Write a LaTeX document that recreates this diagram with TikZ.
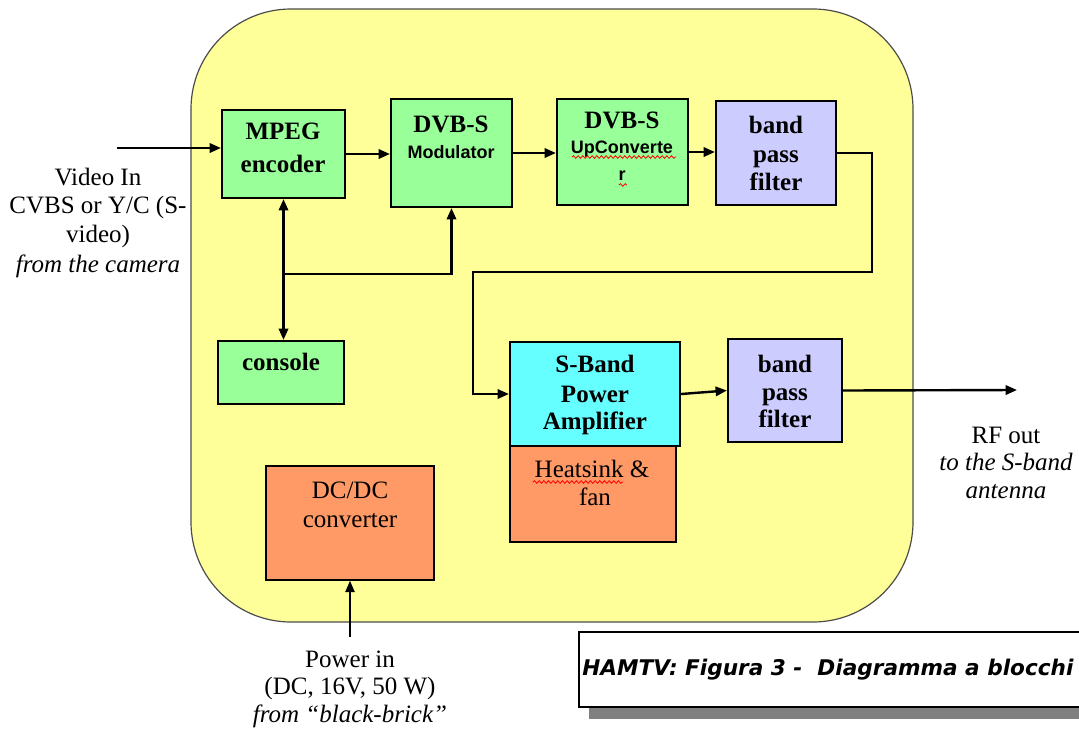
\documentclass[tikz,border=0pt]{standalone}
\usepackage{fontspec}
\setmainfont{Liberation Serif}
\setsansfont{Liberation Sans}
\newfontfamily\capfont{DejaVu Sans}
\usetikzlibrary{arrows.meta,fit,decorations.pathmorphing}
\definecolor{bgyellow}{RGB}{255,255,153}
\definecolor{boxgreen}{RGB}{153,255,153}
\definecolor{boxlav}{RGB}{204,204,255}
\definecolor{boxcyan}{RGB}{102,255,255}
\definecolor{boxorange}{RGB}{255,153,102}
\definecolor{shadowgray}{RGB}{128,128,128}
\tikzset{
  box/.style={draw=black, line width=1.6pt, inner sep=0pt},
  thinbox/.style={draw=black, line width=1.2pt, inner sep=0pt},
  bt/.style={font=\fontsize{18.75}{21}\selectfont\bfseries, anchor=base, inner sep=0pt},
  rt/.style={font=\fontsize{18.75}{21}\selectfont, anchor=base, inner sep=0pt},
  it/.style={font=\fontsize{18.75}{21}\selectfont\itshape, anchor=base, inner sep=0pt},
  st/.style={font=\sffamily\bfseries\fontsize{13.5}{15}\selectfont, anchor=base, inner sep=0pt},
  tip/.tip={Triangle[length=8.5pt,width=7pt]},
  conn/.style={line width=1.8pt, -tip},
  squig/.style={red, line width=0.6pt, decorate, decoration={snake, amplitude=1pt, segment length=3.5pt}},
}
\begin{document}
\begin{tikzpicture}[x=0.75pt,y=-0.75pt]
\useasboundingbox (0,0) rectangle (1079,733);
\clip (0,0) rectangle (1079,733);
% housing
\draw[fill=bgyellow, draw=black!70, line width=0.9pt, rounded corners=75pt] (191,9) rectangle (913,622);
% boxes
\node[box, fill=boxgreen, fit={(222,110) (345,198)}] (mpeg) {};
\node[box, fill=boxgreen, fit={(391,99) (512,207)}] (mod) {};
\node[box, fill=boxgreen, fit={(557,99) (688,205)}] (upc) {};
\node[box, fill=boxlav, fit={(716,101) (836,205)}] (bpfa) {};
\node[box, fill=boxgreen, fit={(218,341) (344,404)}] (cons) {};
\node[thinbox, fill=boxorange, fit={(510,446) (676,542)}] (heat) {};
\node[box, fill=boxcyan, fit={(510,342) (680,446)}] (pa) {};
\node[box, fill=boxlav, fit={(728,339) (842,442)}] (bpfb) {};
\node[thinbox, fill=boxorange, fit={(266,466) (434,580)}] (dcdc) {};
% box texts
\node[bt] (mpeg1) at (283,139) {MPEG};
\node[bt] (mpeg2) at (283,172) {encoder};
\node[bt] (mod1) at (451,132) {DVB-S};
\node[st] (mod2) at (451,158) {Modulator};
\node[bt] (upc1) at (622,128) {DVB-S};
\node[st] (upc2) at (622,153) {UpConverte};
\node[st] (upc3) at (622,180) {r};
\node[bt] (bpfa1) at (776,133) {band};
\node[bt] (bpfa2) at (776,162) {pass};
\node[bt] (bpfa3) at (776,190) {filter};
\node[bt] (cons1) at (281,370) {console};
\node[bt] (pa1) at (595,372) {S-Band};
\node[bt] (pa2) at (595,402) {Power};
\node[bt] (pa3) at (595,429) {Amplifier};
\node[rt] (heat1) at (592,477) {Heatsink \&};
\node[rt] (heat2) at (595,505) {fan};
\node[bt] (bpfb1) at (785,372) {band};
\node[bt] (bpfb2) at (785,400) {pass};
\node[bt] (bpfb3) at (785,427) {filter};
\node[rt] (dc1) at (350,498) {DC/DC};
\node[rt] (dc2) at (350,527) {converter};
% spell-check squiggles
\draw[squig] (572,157) -- (676,157);
\draw[squig] (619,185) -- (627,185);
\draw[squig] (533,482) -- (623,482);
% outside texts
\node[rt] (vin1) at (98,185) {Video In};
\node[rt] (vin2) at (98,213) {CVBS or Y/C (S-};
\node[rt] (vin3) at (98,242) {video)};
\node[it] (vin4) at (98,272) {from the camera};
\node[rt] (rf1) at (1006,443) {RF out};
\node[it] (rf2) at (1006,470) {to the S-band};
\node[it] (rf3) at (1006,498) {antenna};
\node[rt] (pw1) at (350,667) {Power in};
\node[rt] (pw2) at (350,694) {(DC, 16V, 50 W)};
\node[it] (pw3) at (350,722) {from “black-brick”};
% connectors
\coordinate (vin) at (117,148);
\draw[conn] (vin) -- (vin -| mpeg.west);
\draw[conn] (mpeg.east) -- (mpeg.east -| mod.west);
\draw[conn] (mod.east) -- (mod.east -| upc.west);
\draw[conn] (upc.east) -- (upc.east -| bpfa.west);
\coordinate (r1) at (872,272);
\coordinate (l1) at (473,272);
\draw[conn] (bpfa.east) -| (r1) -- (l1) |- (pa.west);
\draw[conn] (pa.east) -- (bpfb.west);
\coordinate (rfout) at (1017,390);
\draw[conn] (bpfb.east) -- (rfout);
\draw[line width=1.8pt, tip-tip] (mpeg.south) -- (mpeg.south |- cons.north);
\coordinate (br) at (283.5,274);
\draw[conn] (br) -| (mod.south);
\coordinate (pin) at (350,637);
\draw[line width=1.2pt, -tip] (pin) -- (dcdc.south);
% caption
\fill[shadowgray] (589,644) rectangle (1090,719);
\draw[fill=white, line width=1.5pt] (579,632) rectangle (1090,707);
\node[anchor=west, font=\capfont\bfseries\itshape\fontsize{16.2}{19}\selectfont, inner sep=0pt] (cap) at (582,670) {HAMTV: Figura 3 -\ \ Diagramma a blocchi};
\end{tikzpicture}
\end{document}
